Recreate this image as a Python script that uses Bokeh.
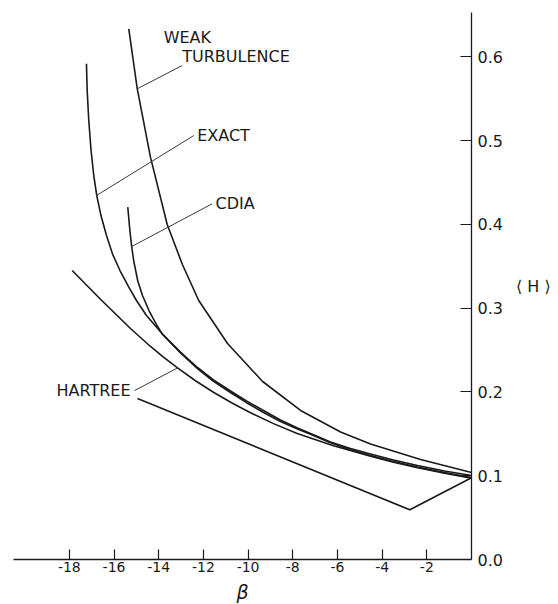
from bokeh.plotting import figure
from bokeh.models import Range1d, FixedTicker, Label
from bokeh.embed import file_html
from bokeh.resources import INLINE

# ---- data ----
weak_x = [-15.34, -14.96, -14.37, -13.62, -12.94, -12.21, -10.92, -9.35, -7.65, -5.86, -4.52, -2.28, 0.0]
weak_y = [0.6335, 0.5619, 0.4803, 0.3999, 0.3522, 0.3092, 0.2578, 0.2125, 0.1779, 0.1522, 0.1379, 0.1194, 0.1039]

exact_x = [-17.234, -17.202, -17.131, -17.028, -16.907, -16.773, -16.585, -16.338, -16.070, -15.734,
           -15.340, -14.996, -14.548, -13.845, -13.026, -12.265, -11.549, -10.788, -10.072, -9.311,
           -8.550, -7.789, -7.207, -6.312, -5.416, -4.521, -3.491, -2.417, -1.209, 0.0]
exact_y = [0.5917, 0.5599, 0.5241, 0.4882, 0.4584, 0.4345, 0.4106, 0.3868, 0.3649, 0.3450,
           0.3251, 0.3092, 0.2913, 0.2694, 0.2477, 0.2292, 0.2143, 0.2011, 0.1892, 0.1779,
           0.1665, 0.1570, 0.1504, 0.1403, 0.1325, 0.1259, 0.1188, 0.1122, 0.1056, 0.1003]

cdia_x = [-15.385, -15.291, -15.210, -15.121, -14.942, -14.727, -14.436, -14.078, -13.845, -13.026,
          -12.265, -11.549, -10.788, -10.072, -9.311, -8.550, -7.789, -7.207, -6.312, -5.416,
          -4.521, -3.491, -2.417, -1.209, 0.0]
cdia_y = [0.4206, 0.3927, 0.3736, 0.3569, 0.3331, 0.3152, 0.2972, 0.2793, 0.2694, 0.2465,
          0.2278, 0.2127, 0.1994, 0.1872, 0.1755, 0.1647, 0.1558, 0.1495, 0.1393, 0.1311,
          0.1241, 0.1170, 0.1104, 0.1039, 0.0979]

hartree_x = [-17.874, -16.607, -15.264, -14.369, -13.787, -13.174, -12.355, -11.535, -10.698, -9.893,
             -8.863, -7.802, -6.177, -4.521, -3.491, -2.417, -1.209, 0.0]
hartree_y = [0.3450, 0.3107, 0.2758, 0.2543, 0.2415, 0.2290, 0.2134, 0.1994, 0.1866, 0.1752,
             0.1622, 0.1505, 0.1358, 0.1233, 0.1162, 0.1095, 0.1029, 0.0971]

hartree_low_x = [-14.95, -2.76, 0.0]
hartree_low_y = [0.1922, 0.0593, 0.0975]

# leader lines from curve to label
leader_x0 = [-14.96, -16.79, -15.21, -15.08]
leader_y0 = [0.5619, 0.4345, 0.3736, 0.2017]
leader_x1 = [-12.95, -12.43, -11.61, -13.17]
leader_y1 = [0.5897, 0.5061, 0.4246, 0.2285]

label_texts = ["WEAK", "TURBULENCE", "EXACT", "CDIA", "HARTREE"]
label_x = [-13.78, -12.95, -12.28, -11.46, -15.26]
label_y = [0.6237, 0.6002, 0.5067, 0.4246, 0.2017]
label_align = ["left", "left", "left", "left", "right"]

x_ticks = [-18, -16, -14, -12, -10, -8, -6, -4, -2]
x_tick_labels = ["-18", "-16", "-14", "-12", "-10", "-8", "-6", "-4", "-2"]
y_ticks = [0.0, 0.1, 0.2, 0.3, 0.4, 0.5, 0.6]
y_tick_labels = ["0.0", "0.1", "0.2", "0.3", "0.4", "0.5", "0.6"]

FONT = "DejaVu Sans"
INK = "#1a1a1a"

p = figure(frame_width=458, frame_height=547, output_backend="svg", toolbar_location=None,
           x_range=Range1d(-20.5, 0), y_range=Range1d(0, 0.653),
           y_axis_location="right",
           min_border_left=13, min_border_top=12, min_border_bottom=45, min_border_right=87,
           background_fill_color="white", border_fill_color="white")
p.outline_line_color = None
p.xgrid.visible = False
p.ygrid.visible = False

xa = p.xaxis[0]
xa.ticker = FixedTicker(ticks=x_ticks)
xa.major_label_overrides = dict(zip(x_ticks, x_tick_labels))
xa.major_tick_in = 10
xa.major_tick_out = 0
xa.minor_tick_in = 0
xa.minor_tick_out = 0
xa.major_label_standoff = 2
xa.major_label_text_font = FONT
xa.major_label_text_font_size = "14px"
xa.major_label_text_color = INK
xa.axis_line_color = INK
xa.axis_line_width = 1.3
xa.major_tick_line_color = INK
xa.major_tick_line_width = 1.2
xa.axis_label = "\u03b2"
xa.axis_label_text_font = FONT
xa.axis_label_text_font_style = "italic"
xa.axis_label_text_font_size = "19px"
xa.axis_label_text_color = INK
xa.axis_label_standoff = 6

ya = p.yaxis[0]
ya.ticker = FixedTicker(ticks=y_ticks)
ya.major_label_overrides = dict(zip(y_ticks, y_tick_labels))
ya.major_tick_in = 11
ya.major_tick_out = 0
ya.minor_tick_in = 0
ya.minor_tick_out = 0
ya.major_label_standoff = 6
ya.major_label_text_font = FONT
ya.major_label_text_font_size = "16px"
ya.major_label_text_color = INK
ya.axis_line_color = INK
ya.axis_line_width = 1.3
ya.major_tick_line_color = INK
ya.major_tick_line_width = 1.2
ya.axis_label = "\u27e8 H \u27e9"
ya.axis_label_orientation = "horizontal"
ya.axis_label_text_font = FONT
ya.axis_label_text_font_style = "normal"
ya.axis_label_text_font_size = "16px"
ya.axis_label_text_color = INK
ya.axis_label_text_baseline = "bottom"
ya.axis_label_standoff = 10

for xs, ys in [(weak_x, weak_y), (exact_x, exact_y), (cdia_x, cdia_y),
               (hartree_x, hartree_y), (hartree_low_x, hartree_low_y)]:
    p.line(xs, ys, line_color=INK, line_width=1.6, line_join="round")

p.segment(x0=leader_x0, y0=leader_y0, x1=leader_x1, y1=leader_y1,
          line_color="#3a3a3a", line_width=1.0)

for txt, tx, ty, al in zip(label_texts, label_x, label_y, label_align):
    p.add_layout(Label(x=tx, y=ty, text=txt, text_align=al, text_baseline="middle",
                       text_font=FONT, text_font_size="16px", text_color=INK))

open("out.html", "w").write(file_html(p, INLINE))
